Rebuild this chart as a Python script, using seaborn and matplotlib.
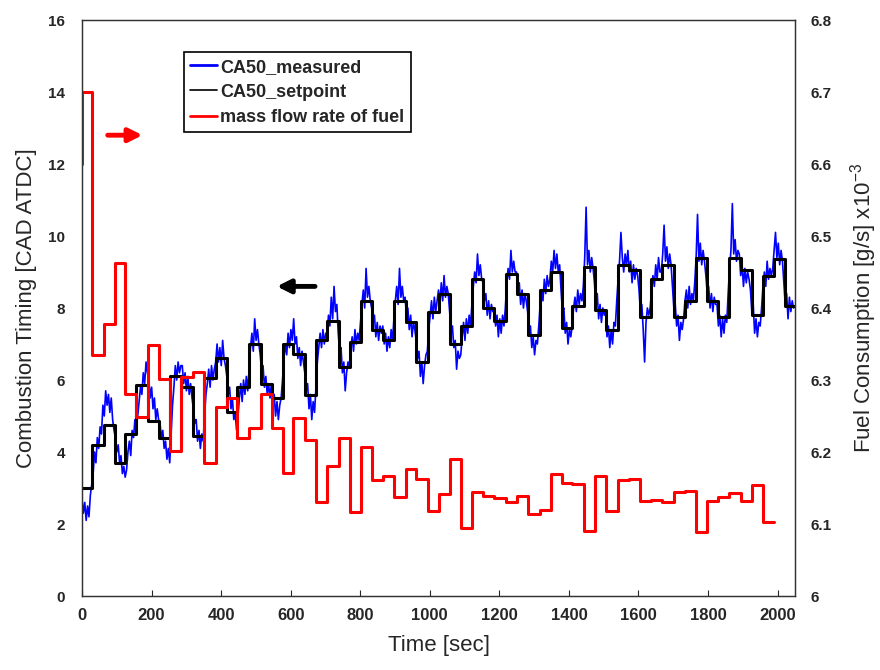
import numpy as np
import seaborn as sns
import matplotlib.pyplot as plt
from matplotlib.lines import Line2D

# step start times [sec] shared by setpoint and fuel command
step_t = [0, 30, 62, 95, 124, 156, 189, 220, 252, 286, 320, 351, 384, 416, 447, 481,
          514, 545, 577, 608, 640, 673, 705, 738, 770, 801, 834, 866, 898, 931, 961, 994,
          1025, 1057, 1090, 1121, 1153, 1186, 1220, 1251, 1283, 1316, 1348, 1379, 1410, 1442,
          1476, 1507, 1540, 1572, 1605, 1637, 1668, 1701, 1733, 1765, 1798, 1829, 1861, 1894,
          1926, 1958, 1990, 2022]
t_end = 2046

# CA50 setpoint [CAD ATDC], one value per step
ca50_set = [3.0, 4.2, 4.75, 3.7, 4.5, 5.85, 4.85, 4.4, 6.1, 5.8, 4.45, 6.05, 6.6, 5.1, 5.8, 7.0,
            5.9, 5.5, 7.0, 6.72, 5.58, 7.1, 7.65, 6.35, 7.05, 8.2, 7.4, 7.1, 8.2, 7.6, 6.5, 7.9,
            8.4, 7.0, 7.5, 8.8, 8.0, 7.65, 8.95, 8.4, 7.25, 8.5, 9.0, 7.45, 8.05, 9.15,
            7.95, 7.4, 9.2, 9.05, 7.75, 8.8, 9.2, 7.75, 8.2, 9.4, 8.2, 7.75, 9.4, 9.05,
            7.8, 8.9, 9.35, 8.05]

# fuel mass flow [g/s x1e-3], one value per step (ends at 1990 s), starts from 6.6
fuel_start = 6.6
fuel = [6.70, 6.335, 6.378, 6.462, 6.28, 6.249, 6.349, 6.301, 6.202, 6.304, 6.311, 6.185,
        6.263, 6.275, 6.22, 6.234, 6.281, 6.234, 6.171, 6.247, 6.217, 6.13, 6.18, 6.22,
        6.116, 6.207, 6.161, 6.166, 6.138, 6.177, 6.162, 6.118, 6.142, 6.19, 6.095, 6.145,
        6.139, 6.136, 6.13, 6.139, 6.114, 6.119, 6.17, 6.157, 6.156, 6.09, 6.167, 6.118,
        6.161, 6.162, 6.132, 6.133, 6.13, 6.145, 6.146, 6.089, 6.132, 6.138, 6.143, 6.132,
        6.154, 6.103]
fuel_end = 1990

# CA50 measured, 8 samples per step
ca50_meas = [
    2.7, 2.3, 2.6, 2.1, 2.5, 2.2, 2.8, 3.1,
    3.4, 4.0, 3.7, 4.4, 4.1, 4.7, 4.5, 5.3,
    5.0, 5.7, 5.3, 5.6, 5.1, 5.5, 4.9, 4.6,
    4.4, 4.0, 4.2, 3.7, 3.9, 3.4, 3.6, 3.3,
    3.5, 4.0, 4.3, 3.9, 4.6, 4.4, 4.9, 4.7,
    5.0, 5.4, 5.8, 5.6, 6.2, 5.9, 6.5, 6.2,
    6.0, 5.5, 5.8, 5.2, 5.5, 4.9, 5.2, 4.9,
    4.8, 4.4, 4.6, 4.1, 4.3, 3.8, 4.1, 3.7,
    4.5, 5.3, 5.8, 6.4, 6.0, 6.5, 6.2, 6.4,
    6.4, 5.9, 6.2, 5.7, 6.1, 5.6, 5.9, 5.5,
    5.2, 4.8, 4.9, 4.3, 4.6, 4.1, 4.5, 4.3,
    5.0, 5.6, 5.9, 6.3, 5.8, 6.4, 6.0, 6.3,
    6.5, 7.0, 6.5, 6.9, 6.4, 7.1, 6.6, 6.4,
    6.1, 5.6, 5.8, 5.2, 5.5, 4.9, 5.1, 4.6,
    5.0, 5.5, 5.9, 5.4, 6.0, 5.6, 6.1, 5.7,
    6.3, 6.9, 7.3, 6.8, 7.7, 7.1, 7.4, 7.0,
    6.7, 6.2, 6.4, 5.8, 6.1, 5.6, 5.9, 5.5,
    5.9, 5.3, 5.6, 5.0, 5.4, 4.9, 5.3, 5.5,
    6.0, 6.6, 7.0, 6.7, 7.3, 6.9, 7.4, 7.1,
    7.7, 7.0, 7.2, 6.6, 6.9, 6.4, 6.8, 6.5,
    6.2, 5.7, 5.9, 5.2, 5.6, 4.9, 5.4, 5.1,
    5.8, 6.5, 6.9, 7.3, 6.9, 7.4, 7.0, 7.3,
    7.3, 7.8, 7.5, 8.3, 7.7, 8.6, 7.9, 8.1,
    7.3, 6.8, 6.9, 6.2, 6.5, 5.7, 6.2, 6.5,
    6.4, 6.9, 7.2, 6.8, 7.4, 7.0, 7.3, 7.1,
    7.6, 8.1, 8.5, 8.0, 9.1, 8.3, 8.6, 8.2,
    8.0, 7.6, 7.8, 7.2, 7.6, 7.1, 7.5, 7.3,
    7.5, 7.0, 7.3, 6.8, 7.2, 6.9, 7.4, 7.1,
    7.7, 8.2, 8.6, 8.1, 9.1, 8.3, 8.6, 8.2,
    8.3, 7.8, 8.0, 7.4, 7.8, 7.2, 7.6, 7.4,
    7.1, 6.6, 6.8, 6.1, 6.5, 5.9, 6.4, 6.7,
    6.8, 7.4, 7.8, 8.2, 7.7, 8.3, 7.9, 8.2,
    8.5, 8.1, 8.7, 8.2, 8.9, 8.3, 8.6, 8.4,
    7.9, 7.4, 7.5, 6.9, 7.1, 6.3, 6.8, 6.6,
    6.7, 7.2, 7.6, 7.1, 7.7, 7.3, 7.8, 7.5,
    8.1, 8.6, 9.0, 8.7, 9.5, 8.9, 9.2, 8.8,
    8.7, 8.2, 8.4, 7.8, 8.2, 7.7, 8.1, 7.9,
    8.0, 7.5, 7.8, 7.2, 7.7, 7.3, 7.8, 7.5,
    8.0, 8.7, 9.1, 8.8, 9.6, 9.0, 9.3, 9.0,
    9.0, 8.5, 8.7, 8.1, 8.5, 8.0, 8.4, 8.2,
    7.9, 7.4, 7.5, 6.9, 7.2, 6.7, 7.1, 7.0,
    7.5, 8.1, 8.5, 8.2, 8.8, 8.4, 8.9, 8.6,
    8.8, 9.3, 9.0, 9.6, 9.1, 9.5, 9.0, 9.2,
    8.5, 7.9, 8.0, 7.3, 7.6, 7.0, 7.4, 7.2,
    7.5, 8.0, 8.3, 7.9, 8.5, 8.1, 8.4, 8.2,
    8.6, 9.4, 10.8, 9.2, 9.6, 9.0, 9.4, 9.1,
    8.7, 8.1, 8.4, 7.7, 8.1, 7.6, 8.0, 7.8,
    7.9, 7.2, 7.5, 6.9, 7.4, 7.0, 7.6, 7.5,
    8.2, 8.8, 9.3, 10.1, 9.4, 9.0, 9.5, 9.2,
    9.6, 9.0, 9.3, 8.7, 9.2, 8.8, 9.1, 8.9,
    8.5, 7.9, 8.1, 7.4, 6.5, 7.6, 8.0, 7.8,
    8.0, 8.5, 8.9, 8.6, 9.2, 8.8, 9.4, 9.0,
    9.0, 9.5, 10.3, 9.3, 9.7, 9.1, 9.5, 9.2,
    8.6, 8.0, 8.1, 7.5, 7.8, 7.1, 7.6, 7.4,
    7.7, 8.2, 8.5, 8.0, 8.6, 8.1, 8.4, 8.2,
    8.7, 9.4, 10.6, 9.3, 9.8, 9.2, 9.6, 9.3,
    8.9, 8.4, 8.6, 8.0, 8.4, 7.9, 8.3, 8.1,
    8.1, 7.5, 7.8, 7.2, 7.7, 7.3, 7.8, 7.6,
    8.4, 9.1, 9.6, 10.9, 9.5, 9.9, 9.3, 9.6,
    9.5, 8.9, 9.2, 8.6, 9.1, 8.7, 9.0, 8.8,
    8.5, 7.9, 8.1, 7.3, 7.7, 7.2, 7.6, 7.5,
    8.0, 8.6, 9.0, 8.6, 9.3, 8.8, 9.1, 8.9,
    9.1, 9.6, 10.1, 9.4, 9.8, 9.2, 9.6, 9.3,
    8.7, 8.1, 8.4, 7.7, 8.3, 7.9, 8.2, 8.0,
]

xticks = list(range(0, 2001, 200))
left_ticks = list(range(0, 17, 2))
right_ticks = [6.0, 6.1, 6.2, 6.3, 6.4, 6.5, 6.6, 6.7, 6.8]
right_labels = ["6", "6.1", "6.2", "6.3", "6.4", "6.5", "6.6", "6.7", "6.8"]

sns.set_style("white")
plt.rcParams['font.family'] = ['Liberation Sans', 'DejaVu Sans']
plt.rcParams['mathtext.fontset'] = 'custom'
plt.rcParams['mathtext.rm'] = 'Liberation Sans'

fig = plt.figure(figsize=(8.8, 6.7), dpi=100)
ax = fig.add_axes([82 / 880, 1 - 596 / 670, (795 - 82) / 880, (596 - 20) / 670])

t_meas = np.linspace(0, t_end, len(ca50_meas))
sns.lineplot(x=t_meas, y=ca50_meas, ax=ax, estimator=None, sort=False,
             color="#0000ff", lw=1.2)

set_x = np.append(step_t, t_end)
set_y = np.append(ca50_set, ca50_set[-1])
sns.lineplot(x=set_x, y=set_y, ax=ax, estimator=None, sort=False,
             color="black", lw=2.2, drawstyle="steps-post")

ax2 = ax.twinx()
fuel_x = np.concatenate([[0], step_t[:len(fuel)], [fuel_end]])
fuel_y = np.concatenate([[fuel_start], fuel, [fuel[-1]]])
sns.lineplot(x=fuel_x, y=fuel_y, ax=ax2, estimator=None, sort=False,
             color="#ff0000", lw=2.2, drawstyle="steps-post")

ax.set_xlim(0, 2050)
ax.set_ylim(0, 16)
ax2.set_ylim(6.0, 6.8)

ax.set_xticks(xticks)
ax.set_xticklabels([str(v) for v in xticks], fontsize=12, fontweight="bold")
ax.set_yticks(left_ticks)
ax.set_yticklabels([str(v) for v in left_ticks], fontsize=11, fontweight="bold")
ax2.set_yticks(right_ticks)
ax2.set_yticklabels(right_labels, fontsize=11, fontweight="bold")

ax.tick_params(axis="x", direction="in", length=4, width=0.8, pad=9, bottom=True)
ax.tick_params(axis="y", length=0, pad=12)
ax2.tick_params(axis="y", length=0, pad=11)

ax.set_xlabel("Time [sec]", fontsize=16, labelpad=8)
ax.set_ylabel("Combustion Timing [CAD ATDC]", fontsize=16, labelpad=8)
ax2.set_ylabel("Fuel Consumption [g/s] x10$^{\\mathrm{-3}}$", fontsize=16, labelpad=12)

for a in (ax, ax2):
    for s in a.spines.values():
        s.set_color("#333333")
        s.set_linewidth(0.9)

# direction arrows: fuel -> right axis, CA50 -> left axis
ax.annotate("", xy=(182, 12.8), xytext=(66, 12.8),
            arrowprops=dict(arrowstyle="-|>,head_length=0.8,head_width=0.4",
                            color="#ff0000", lw=3.5))
ax.annotate("", xy=(552, 8.6), xytext=(678, 8.6),
            arrowprops=dict(arrowstyle="-|>,head_length=0.8,head_width=0.4",
                            color="black", lw=3.5))

handles = [Line2D([], [], color="#0000ff", lw=2),
           Line2D([], [], color="black", lw=1.2),
           Line2D([], [], color="#ff0000", lw=2)]
labels = ["CA50_measured", "CA50_setpoint", "mass flow rate of fuel"]
leg = ax2.legend(handles, labels, loc="upper left", bbox_to_anchor=(0.143, 0.944),
                 frameon=True, fancybox=False, framealpha=1, edgecolor="black",
                 prop={"weight": "bold", "size": 13}, handlelength=1.5,
                 handletextpad=0.15, borderpad=0.35, labelspacing=0.45,
                 borderaxespad=0)
leg.get_frame().set_linewidth(1.2)

fig.savefig("out.png", dpi=100)
